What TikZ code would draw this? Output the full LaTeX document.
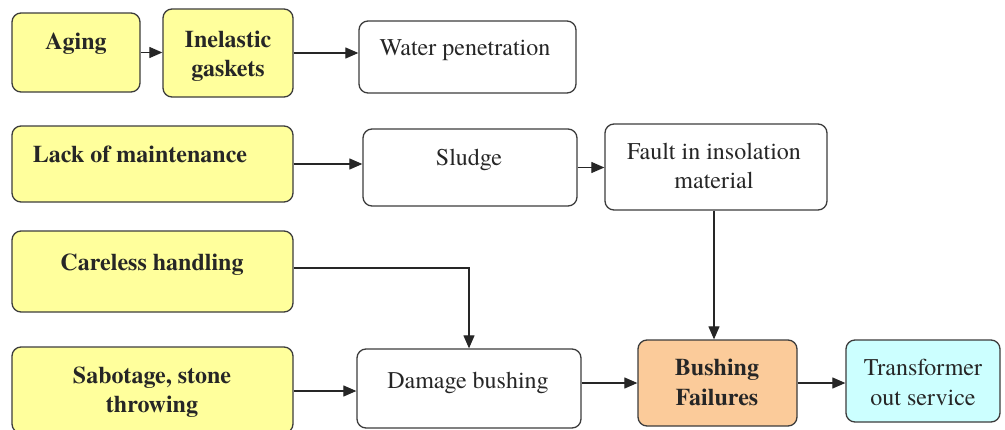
\documentclass[tikz,border=0pt]{standalone}
\usepackage{fontspec}
\setmainfont{texgyretermes}[Extension=.otf, UprightFont=*-regular, BoldFont=*-bold, ItalicFont=*-italic, BoldItalicFont=*-bolditalic]
\usetikzlibrary{arrows.meta}
\definecolor{boxyellow}{HTML}{FFFF9C}
\definecolor{boxorange}{HTML}{FBCB9A}
\definecolor{boxcyan}{HTML}{CCFFFF}
\definecolor{edge}{HTML}{3C3C3C}
\tikzset{
  box/.style={draw=edge, line width=1.3pt, rounded corners=9pt, inner sep=0pt, anchor=center},
  ybox/.style={box, fill=boxyellow},
  wbox/.style={box, fill=white},
  obox/.style={box, fill=boxorange},
  cbox/.style={box, fill=boxcyan},
  lbl/.style={anchor=base, inner sep=0pt, font=\fontsize{24}{29}\selectfont, text=black!85},
  blbl/.style={lbl, font=\fontsize{24}{29}\selectfont\bfseries},
  conn/.style={draw=black!85, line width=1.2pt, -{Triangle[length=13pt,width=11pt]}},
}
\begin{document}
\begin{tikzpicture}[x=1pt,y=-1pt]
\clip (0,0) rectangle (1005,429);
\fill[white] (0,0) rectangle (1005,429);
% boxes: centre = midpoint, size = extent
\node[ybox, minimum width=128pt, minimum height=79pt] (aging) at (76,52.5) {};
\node[ybox, minimum width=130pt, minimum height=88pt] (inel) at (228,53) {};
\node[wbox, minimum width=217pt, minimum height=72pt] (water) at (467.5,57) {};
\node[ybox, minimum width=281pt, minimum height=76pt] (lack) at (152.5,164) {};
\node[wbox, minimum width=214pt, minimum height=77pt] (sludge) at (470,167.5) {};
\node[wbox, minimum width=222pt, minimum height=86pt] (fault) at (716,167) {};
\node[ybox, minimum width=281pt, minimum height=81pt] (care) at (152.5,271.5) {};
\node[ybox, minimum width=281pt, minimum height=86pt] (sab) at (152.5,390) {};
\node[wbox, minimum width=224pt, minimum height=79pt] (dam) at (469,388.5) {};
\node[obox, minimum width=159pt, minimum height=86pt] (bush) at (717.5,383) {};
\node[cbox, minimum width=154pt, minimum height=82pt] (trans) at (923,381) {};
% labels
\node[blbl] (t-aging) at (76,49) {Aging};
\node[blbl] (t-inel1) at (228,47) {Inelastic};
\node[blbl] (t-inel2) at (228,76) {gaskets};
\node[lbl] (t-water) at (465,55) {Water penetration};
\node[blbl] (t-lack) at (140,162) {Lack of maintenance};
\node[lbl] (t-sludge) at (469,165) {Sludge};
\node[lbl] (t-fault1) at (714,159) {Fault in insolation};
\node[lbl] (t-fault2) at (714,188) {material};
\node[blbl] (t-care) at (152,270) {Careless handling};
\node[blbl] (t-sab1) at (152,383) {Sabotage, stone};
\node[blbl] (t-sab2) at (152,412) {throwing};
\node[lbl] (t-dam) at (468,388) {Damage bushing};
\node[blbl] (t-bush1) at (717,375) {Bushing};
\node[blbl] (t-bush2) at (717,405) {Failures};
\node[lbl] (t-trans1) at (923,375) {Transformer};
\node[lbl] (t-trans2) at (923,405) {out service};
% connectors
\draw[conn] (aging.east) -- (inel.west |- aging.east);
\draw[conn] (inel.east) -- (water.west |- inel.east);
\draw[conn] (lack.east) -- (sludge.west |- lack.east);
\draw[conn] (sludge.east) -- (fault.west |- sludge.east);
\draw[conn] (fault.south -| 714,0) -- (bush.north -| 714,0);
\draw[conn] (care.east |- 0,268) -| (dam.north);
\draw[conn] (sab.east |- 0,391) -- (dam.west |- 0,391);
\draw[conn] (dam.east |- bush.west) -- (bush.west);
\draw[conn] (bush.east) -- (trans.west |- bush.east);
\end{tikzpicture}
\end{document}
